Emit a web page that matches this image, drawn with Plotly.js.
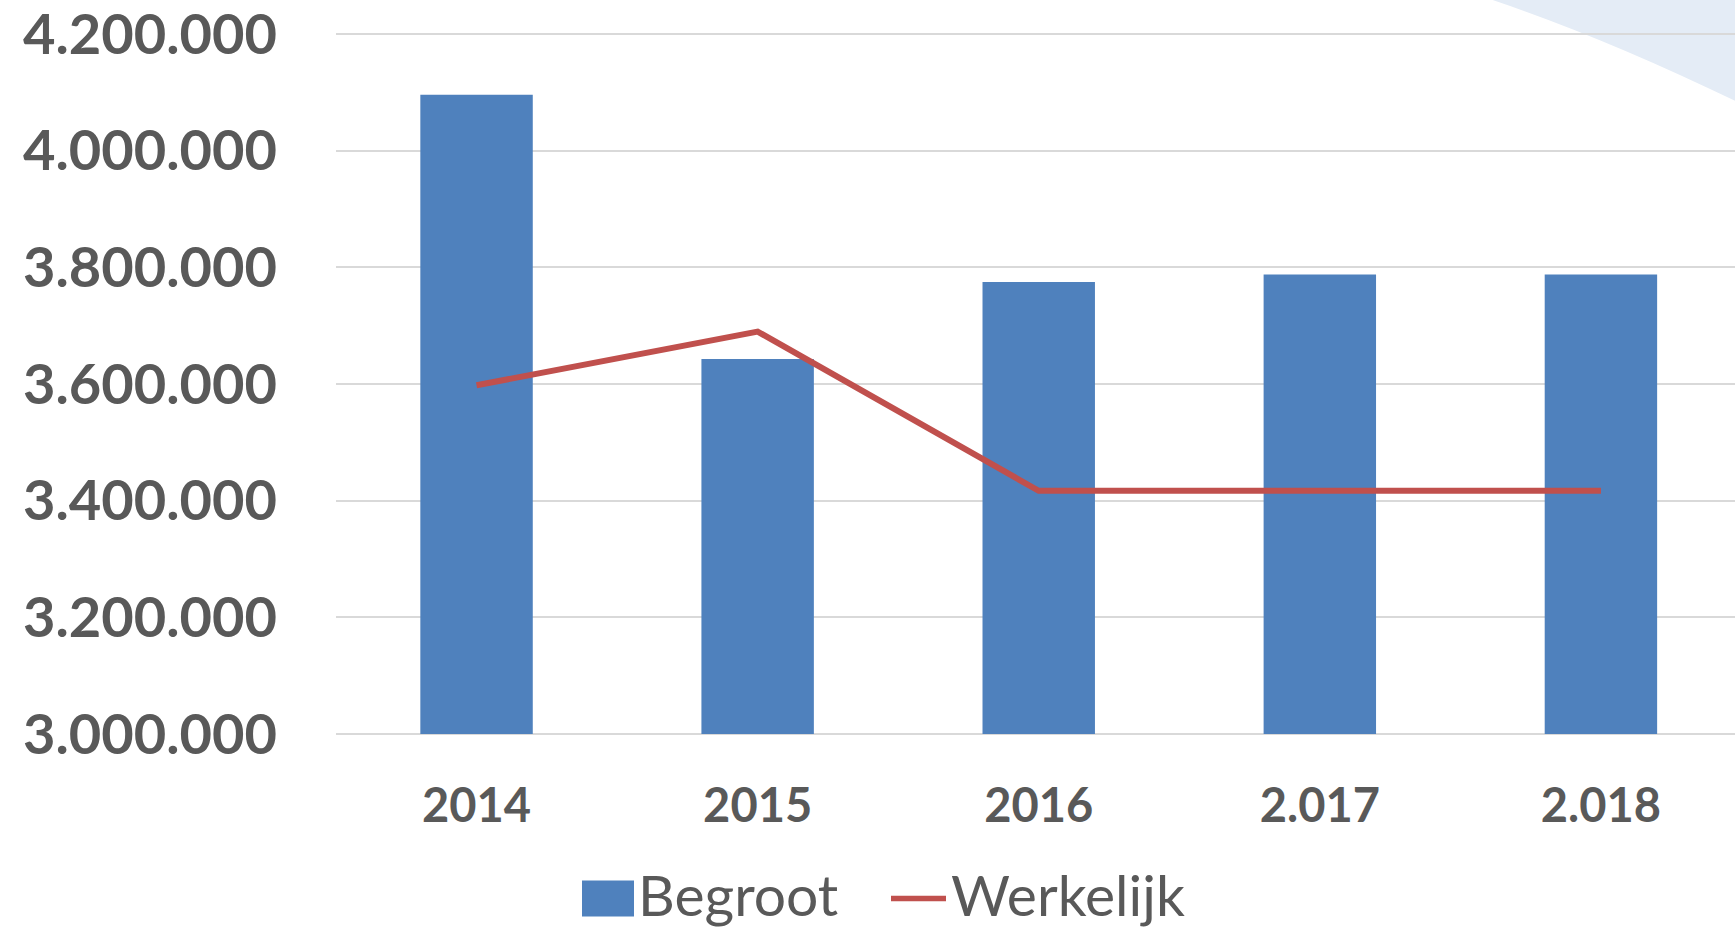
<!DOCTYPE html>
<html>
<head>
<meta charset="utf-8">
<script src="https://cdn.plot.ly/plotly-3.0.1.min.js"></script>
<style>
  html, body { margin: 0; padding: 0; background: #ffffff; }
  #chart { width: 1735px; height: 928px; }
</style>
</head>
<body>
<div id="chart"></div>
<script>
// ---- data ----
const categories = ["2014", "2015", "2016", "2.017", "2.018"];
const begroot   = [4096000, 3643000, 3775000, 3788000, 3788000];
const werkelijk = [3598000, 3690000, 3417000, 3417000, 3417000];
const seriesNames = ["Begroot", "Werkelijk"];

// ---- layout geometry (pixels) ----
const W = 1735, H = 928;
const M = { l: 336, r: 0, t: 33.2, b: 928 - 733.6 };
const plotW = W - M.l - M.r, plotH = H - M.t - M.b;
const px = x => (x - M.l) / plotW;          // pixel x -> paper
const py = y => (H - M.b - y) / plotH;      // pixel y -> paper

const textColor = "#595959";
const barColor = "#4F81BD";
const lineColor = "#C0504D";

const traces = [
  {
    type: "bar", name: seriesNames[0], x: categories, y: begroot,
    marker: { color: barColor }, showlegend: false, hoverinfo: "x+y"
  },
  {
    type: "scatter", mode: "lines", name: seriesNames[1], x: categories, y: werkelijk,
    line: { color: lineColor, width: 6 }, showlegend: false, hoverinfo: "x+y"
  }
];

const arcPath = "M " + px(1492) + " " + py(0) +
  " Q " + px(1605) + " " + py(38) + " " + px(1735) + " " + py(101) +
  " L " + px(1740) + " " + py(101) + " L " + px(1740) + " " + py(-5) +
  " L " + px(1492) + " " + py(-5) + " Z";

const layout = {
  width: W, height: H,
  margin: M,
  paper_bgcolor: "#ffffff",
  plot_bgcolor: "rgba(0,0,0,0)",
  separators: ",.",
  bargap: 0.6,
  showlegend: false,
  font: { family: "Lato, 'Open Sans', sans-serif", color: textColor },
  xaxis: {
    type: "category",
    range: [-0.5, 4.477],
    showgrid: false, zeroline: false,
    showline: false,
    ticks: "", ticklabelstandoff: 40,
    tickfont: { family: "Lato", size: 47, color: textColor, weight: "bold" },
    fixedrange: true
  },
  yaxis: {
    range: [3000000, 4202000],
    tickvals: [3000000, 3200000, 3400000, 3600000, 3800000, 4000000, 4200000],
    tickformat: ",.0f",
    ticklabeloverflow: "allow",
    showgrid: true, gridcolor: "#D9D9D9", gridwidth: 2,
    zeroline: false, showline: false,
    ticks: "", ticklabelstandoff: 58,
    tickfont: { family: "Lato", size: 56, color: textColor, weight: "bold" },
    fixedrange: true
  },
  shapes: [
    { type: "path", xref: "paper", yref: "paper", layer: "below",
      path: arcPath, fillcolor: "rgb(228,236,246)", line: { width: 0 } },
    // bottom axis gridline (3.000.000)
    { type: "line", xref: "paper", yref: "paper", layer: "below",
      x0: 0, x1: 1, y0: 0, y1: 0, line: { color: "#D9D9D9", width: 2 } },
    // legend symbols
    { type: "rect", xref: "paper", yref: "paper",
      x0: px(582), x1: px(634), y0: py(916), y1: py(880),
      fillcolor: barColor, line: { width: 0 } },
    { type: "line", xref: "paper", yref: "paper",
      x0: px(891), x1: px(946), y0: py(898), y1: py(898),
      line: { color: lineColor, width: 5.5 } }
  ],
  annotations: [
    { xref: "paper", yref: "paper", x: px(636), y: py(893), xanchor: "left", yanchor: "middle",
      text: seriesNames[0], showarrow: false,
      font: { family: "Lato", size: 57, color: textColor } },
    { xref: "paper", yref: "paper", x: px(949), y: py(893), xanchor: "left", yanchor: "middle",
      text: seriesNames[1], showarrow: false,
      font: { family: "Lato", size: 57, color: textColor } }
  ]
};

Plotly.newPlot("chart", traces, layout, { displayModeBar: false, staticPlot: true });
</script>
</body>
</html>
